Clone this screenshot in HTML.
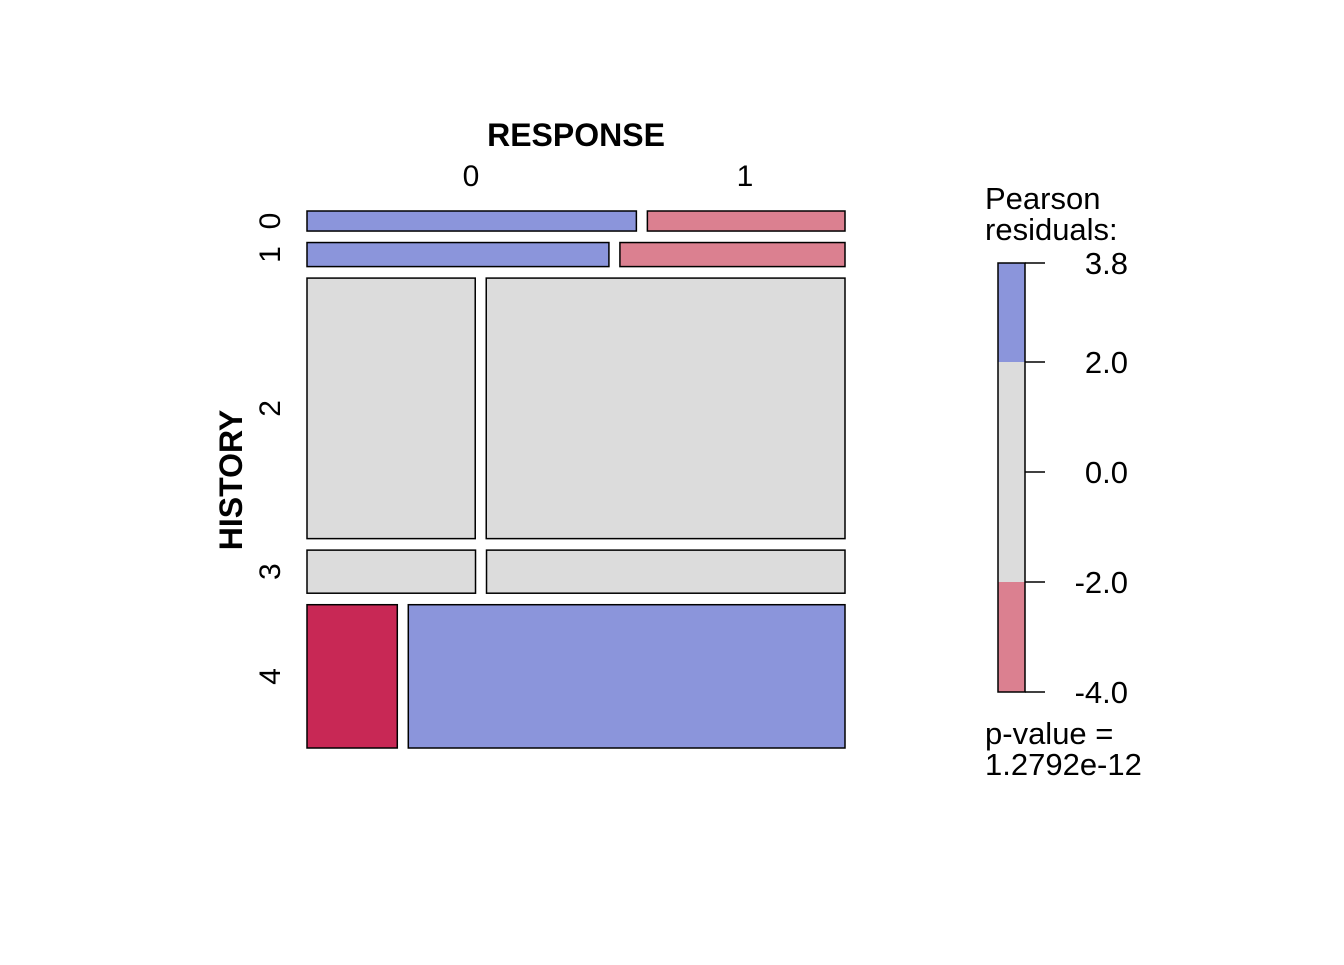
<!DOCTYPE html>
<html><head><meta charset="utf-8"><style>
html,body{margin:0;padding:0;background:#fff;}
svg text{font-family:"Liberation Sans",Arial,sans-serif;fill:#000;}
</style></head><body>
<svg id="c" width="1344" height="960" xmlns="http://www.w3.org/2000/svg"></svg>
<script>
const historyLevels = ["0","1","2","3","4"];
const responseLevels = ["0","1"];
const countResp0 = [50, 55, 332, 55, 98];
const countResp1 = [30, 41, 708, 117, 474];
const residualResp0 = [2.8, 2.3, 0.4, 0.3, -3.9];
const residualResp1 = [-2.6, -2.2, -0.3, -0.2, 3.0];
const legendTicks = [3.8, 2.0, 0.0, -2.0, -4.0];
const pValueText = "1.2792e-12";

const NS = "http://www.w3.org/2000/svg";
const svgEl = document.getElementById("c");
function mk(tag, attrs, parent) {
  const e = document.createElementNS(NS, tag);
  for (const k in attrs) e.setAttribute(k, attrs[k]);
  (parent || svgEl).appendChild(e);
  return e;
}
function cellFill(r) {
  if (r <= -3.5) return "#C82855";
  if (r >= 2) return "#8B95DB";
  if (r > -2) return "#DCDCDC";
  return "#DB8090";
}

const X0 = 307, X1 = 845, Y0 = 211, Y1 = 748, GAP = 11.5;
const rowTot = countResp0.map((v, i) => v + countResp1[i]);
const grand = rowTot.reduce((a, b) => a + b, 0);
const usableH = (Y1 - Y0) - GAP * (historyLevels.length - 1);
const usableW = (X1 - X0) - 11;
let yy0 = Y0;
historyLevels.forEach((lvl, i) => {
  const h = usableH * rowTot[i] / grand;
  const w0 = usableW * countResp0[i] / rowTot[i];
  const r0 = mk("rect", {x: X0, y: yy0, width: w0, height: h, fill: cellFill(residualResp0[i]), stroke: "#000", "stroke-width": 1.5});
  
  
  const x1 = X0 + w0 + 11;
  const r1 = mk("rect", {x: x1, y: yy0, width: X1 - x1, height: h, fill: cellFill(residualResp1[i]), stroke: "#000", "stroke-width": 1.5});
  
  
  const t = mk("text", {x: 0, y: 0, "font-size": 30, "text-anchor": "middle", transform: `translate(280,${yy0 + h / 2}) rotate(-90)`});
  t.textContent = lvl;
  
  
  yy0 += h + GAP;
});
const c0 = mk("text", {x: 471, y: 186, "font-size": 30, "text-anchor": "middle"});
c0.textContent = responseLevels[0];


const c1 = mk("text", {x: 745, y: 186, "font-size": 30, "text-anchor": "middle"});
c1.textContent = responseLevels[1];



const tt = mk("text", {x: 576, y: 146, "font-size": 32, "font-weight": "bold", "text-anchor": "middle"});
tt.textContent = "RESPONSE";


const yt = mk("text", {x: 0, y: 0, "font-size": 32, "font-weight": "bold", "text-anchor": "middle", transform: "translate(242,480) rotate(-90)"});
yt.textContent = "HISTORY";



// legend
const ly = v => 472 - 55 * v;
const LX = 998, LW = 27;
const legTop = ly(legendTicks[0]), legBot = ly(legendTicks[legendTicks.length - 1]);
const segs = [[legendTicks[0], 2, "#8B95DB"], [2, -2, "#DCDCDC"], [-2, legendTicks[legendTicks.length - 1], "#DB8090"]];
segs.forEach(s => {
  const r = mk("rect", {x: LX, y: ly(s[0]), width: LW, height: ly(s[1]) - ly(s[0]), fill: s[2]});
  
  
});
const lb = mk("rect", {x: LX, y: legTop, width: LW, height: legBot - legTop, fill: "none", stroke: "#000", "stroke-width": 1.5});


legendTicks.forEach(v => {
  const l = mk("line", {x1: LX + LW, x2: LX + LW + 20, y1: ly(v), y2: ly(v), stroke: "#000", "stroke-width": 1.5});
  
  
  const t = mk("text", {x: 1128, y: ly(v) + 11, "font-size": 31, "text-anchor": "end"});
  t.textContent = v.toFixed(1);
  
  
});
[["Pearson", 209], ["residuals:", 240], ["p-value =", 744], [pValueText, 775]].forEach(([s, ty], i) => {
  const t = mk("text", {x: 985, y: ty, "font-size": 31});
  t.textContent = s;
  
  
});
</script>
</body></html>
